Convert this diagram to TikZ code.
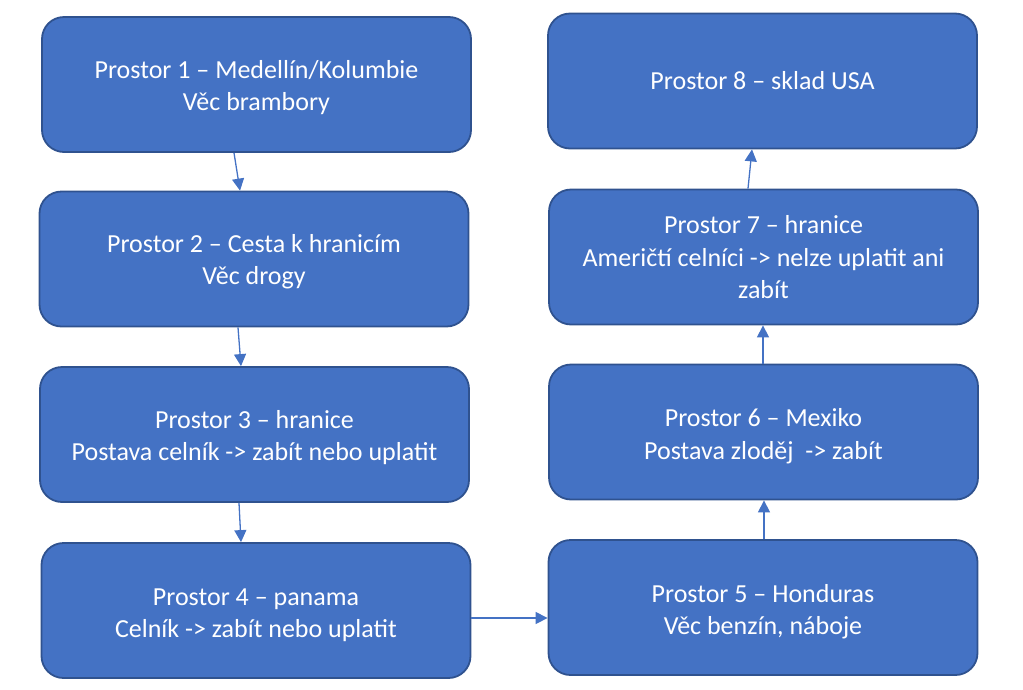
\documentclass[tikz,border=0pt]{standalone}
\usepackage{fontspec}
\setmainfont{Carlito}
\usetikzlibrary{arrows.meta}
\definecolor{boxfill}{HTML}{4472C4}
\definecolor{boxline}{HTML}{2F528F}
\tikzset{
  stepbox/.style={draw=boxline, line width=1.8pt, fill=boxfill, rounded corners=22pt,
    minimum width=429pt, minimum height=135pt, inner sep=0pt},
  boxtext/.style={text=white, align=center, font=\fontsize{26}{32.5}\selectfont, inner sep=0pt},
  link/.style={draw=boxfill, line width=1.3pt, -{Triangle[length=12pt,width=12pt]}}
}
\begin{document}
\begin{tikzpicture}[x=1pt,y=-1pt]
\useasboundingbox (0,0) rectangle (1023,689);
\node[stepbox] (b1) at (256.5,84.5) {};
\node[stepbox] (b2) at (254,259) {};
\node[stepbox] (b3) at (254.5,434.5) {};
\node[stepbox] (b4) at (256,610.5) {};
\node[stepbox] (b5) at (763,607.5) {};
\node[stepbox] (b6) at (763.5,432) {};
\node[stepbox] (b7) at (763.5,257) {};
\node[stepbox] (b8) at (762.5,81) {};
\node[boxtext] (t1) at ([yshift=-3pt]b1.center) {Prostor 1 – Medellín/Kolumbie\\Věc brambory};
\node[boxtext] (t2) at ([yshift=-2.5pt]b2.center) {Prostor 2 – Cesta k hranicím\\Věc drogy};
\node[boxtext] (t3) at ([yshift=-3pt]b3.center) {Prostor 3 – hranice\\Postava celník -> zabít nebo uplatit};
\node[boxtext] (t4) at ([yshift=-4.5pt]b4.center) {Prostor 4 – panama\\Celník -> zabít nebo uplatit};
\node[boxtext] (t5) at ([yshift=-4pt]b5.center) {Prostor 5 – Honduras\\Věc benzín, náboje};
\node[boxtext] (t6) at ([yshift=-4pt]b6.center) {Prostor 6 – Mexiko\\Postava zloděj~ -> zabít};
\node[boxtext] (t7) at ([yshift=-0.5pt]b7.center) {Prostor 7 – hranice\\Američtí celníci -> nelze uplatit ani\\zabít};
\node[boxtext] (t8) at (b8.center) {Prostor 8 – sklad USA};
\draw[link] (b1.south -| 234,0) -- (b2.north -| 240,0);
\draw[link] (b2.south -| 238,0) -- (b3.north -| 241,0);
\draw[link] (b3.south -| 239,0) -- (b4.north -| 241,0);
\draw[link] (b4.east |- 0,618) -- (b5.west |- 0,618);
\draw[link] (b5.north -| 764,0) -- (b6.south -| 764,0);
\draw[link] (b6.north -| 763,0) -- (b7.south -| 763,0);
\draw[link] (b7.north -| 748,0) -- (b8.south -| 752,0);
\end{tikzpicture}
\end{document}
